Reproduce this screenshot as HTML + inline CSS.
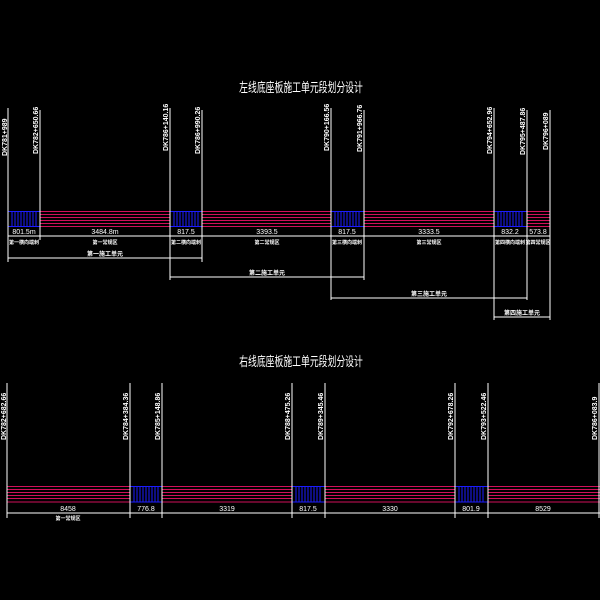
<!DOCTYPE html>
<html><head><meta charset="utf-8"><style>
html,body{margin:0;padding:0;background:#000;width:600px;height:600px;overflow:hidden}
svg{display:block}
text{font-family:"Liberation Sans","Noto Sans CJK SC",sans-serif;fill:#fff}
.w{stroke:#fff;stroke-width:1}
.m{stroke:#d0105a;stroke-width:1}
.b{stroke:#1c1cff;stroke-width:1}
</style></head><body>
<svg width="600" height="600" viewBox="0 0 600 600" xmlns="http://www.w3.org/2000/svg">
<!-- TOP -->
<text transform="translate(301,92) scale(0.68,1)" font-size="13" text-anchor="middle">左线底座板施工单元段划分设计</text>
<g class="m">
<line x1="8" y1="211.5" x2="550" y2="211.5"/><line x1="8" y1="214.5" x2="550" y2="214.5"/><line x1="8" y1="217.5" x2="550" y2="217.5"/>
<line x1="8" y1="220.5" x2="550" y2="220.5"/><line x1="8" y1="223.5" x2="550" y2="223.5"/><line x1="8" y1="226.5" x2="550" y2="226.5"/>
</g>
<g fill="#000" class="b">
<rect x="8" y="211.5" width="32" height="15"/><rect x="170" y="211.5" width="32" height="15"/>
<rect x="331" y="211.5" width="33" height="15"/><rect x="494" y="211.5" width="33" height="15"/>
</g>
<g class="b">
<path d="M12 211v16M15 211v16M18 211v16M21 211v16M24 211v16M27 211v16M30 211v16M33 211v16M36 211v16
M174 211v16M177 211v16M180 211v16M183 211v16M186 211v16M189 211v16M192 211v16M195 211v16M198 211v16
M335 211v16M338 211v16M341 211v16M344 211v16M347 211v16M350 211v16M353 211v16M356 211v16M359 211v16
M498 211v16M501 211v16M504 211v16M507 211v16M510 211v16M513 211v16M516 211v16M519 211v16M522 211v16"/>
</g>
<g class="w">
<line x1="8" y1="108" x2="8" y2="262"/>
<line x1="40" y1="110" x2="40" y2="240"/>
<line x1="170" y1="108" x2="170" y2="280"/>
<line x1="202" y1="110" x2="202" y2="262"/>
<line x1="331" y1="108" x2="331" y2="300"/>
<line x1="364" y1="110" x2="364" y2="280"/>
<line x1="494" y1="108" x2="494" y2="320"/>
<line x1="527" y1="110" x2="527" y2="300"/>
<line x1="550" y1="110" x2="550" y2="320"/>
<line x1="8" y1="236" x2="550" y2="236"/>
<line x1="8" y1="258" x2="202" y2="258"/>
<line x1="170" y1="277" x2="364" y2="277"/>
<line x1="331" y1="298" x2="527" y2="298"/>
<line x1="494" y1="317" x2="550" y2="317"/>
</g>
<g font-size="7" text-anchor="middle">
<text x="24" y="234">801.5m</text><text x="105" y="234">3484.8m</text><text x="186" y="234">817.5</text>
<text x="267" y="234">3393.5</text><text x="347" y="234">817.5</text><text x="429" y="234">3333.5</text>
<text x="510" y="234">832.2</text><text x="538" y="234">573.8</text>
</g>
<g font-size="5" text-anchor="middle" font-weight="bold">
<text x="24" y="244">第一横向端刺</text><text x="105" y="244">第一常规区</text><text x="186" y="244">第二横向端刺</text>
<text x="267" y="244">第二常规区</text><text x="347" y="244">第三横向端刺</text><text x="429" y="244">第三常规区</text>
<text x="510" y="244">第四横向端刺</text><text x="538" y="244">第四常规区</text>
</g>
<g font-size="6" text-anchor="middle" font-weight="bold">
<text x="105" y="256">第一施工单元</text><text x="267" y="275">第二施工单元</text>
<text x="429" y="296">第三施工单元</text><text x="522" y="315">第四施工单元</text>
</g>
<g font-size="7" font-weight="bold">
<text transform="translate(7,156) rotate(-90)">DK781+989</text>
<text transform="translate(38,154) rotate(-90)">DK782+650.66</text>
<text transform="translate(168,151) rotate(-90)">DK786+140.16</text>
<text transform="translate(200,154) rotate(-90)">DK786+990.26</text>
<text transform="translate(329,151) rotate(-90)">DK790+166.56</text>
<text transform="translate(362,152) rotate(-90)">DK791+966.76</text>
<text transform="translate(492,154) rotate(-90)">DK794+652.96</text>
<text transform="translate(525,155) rotate(-90)">DK795+487.86</text>
<text transform="translate(548,150) rotate(-90)">DK796+089</text>
</g>
<!-- BOTTOM -->
<text transform="translate(301,366) scale(0.68,1)" font-size="13" text-anchor="middle">右线底座板施工单元段划分设计</text>
<g class="m">
<line x1="7" y1="486.5" x2="600" y2="486.5"/><line x1="7" y1="489.5" x2="600" y2="489.5"/><line x1="7" y1="492.5" x2="600" y2="492.5"/>
<line x1="7" y1="495.5" x2="600" y2="495.5"/><line x1="7" y1="498.5" x2="600" y2="498.5"/><line x1="7" y1="502" x2="600" y2="502"/>
</g>
<g fill="#000" class="b">
<rect x="130" y="486.5" width="32" height="15.5"/><rect x="292" y="486.5" width="33" height="15.5"/><rect x="455" y="486.5" width="33" height="15.5"/>
</g>
<g class="b">
<path d="M134 486v16M137 486v16M140 486v16M143 486v16M146 486v16M149 486v16M152 486v16M155 486v16M158 486v16
M296 486v16M299 486v16M302 486v16M305 486v16M308 486v16M311 486v16M314 486v16M317 486v16M320 486v16
M459 486v16M462 486v16M465 486v16M468 486v16M471 486v16M474 486v16M477 486v16M480 486v16M483 486v16"/>
</g>
<g class="w">
<line x1="7" y1="383" x2="7" y2="518"/>
<line x1="130" y1="383" x2="130" y2="518"/>
<line x1="162" y1="383" x2="162" y2="518"/>
<line x1="292" y1="383" x2="292" y2="518"/>
<line x1="325" y1="383" x2="325" y2="518"/>
<line x1="455" y1="383" x2="455" y2="518"/>
<line x1="488" y1="383" x2="488" y2="518"/>
<line x1="599" y1="383" x2="599" y2="518"/>
<line x1="7" y1="513" x2="600" y2="513"/>
</g>
<g font-size="7" text-anchor="middle">
<text x="68" y="511">8458</text><text x="146" y="511">776.8</text><text x="227" y="511">3319</text>
<text x="308" y="511">817.5</text><text x="390" y="511">3330</text><text x="471" y="511">801.9</text><text x="543" y="511">8529</text>
</g>
<text x="68" y="520" font-size="5" text-anchor="middle" font-weight="bold">第一常规区</text>
<g font-size="7" font-weight="bold">
<text transform="translate(6,440) rotate(-90)">DK782+682.66</text>
<text transform="translate(128,440) rotate(-90)">DK784+384.36</text>
<text transform="translate(160,440) rotate(-90)">DK785+148.86</text>
<text transform="translate(290,440) rotate(-90)">DK788+475.26</text>
<text transform="translate(323,440) rotate(-90)">DK789+345.46</text>
<text transform="translate(453,440) rotate(-90)">DK792+678.26</text>
<text transform="translate(486,440) rotate(-90)">DK793+522.46</text>
<text transform="translate(597,440) rotate(-90)">DK786+083.9</text>
</g>
</svg>
</body></html>
